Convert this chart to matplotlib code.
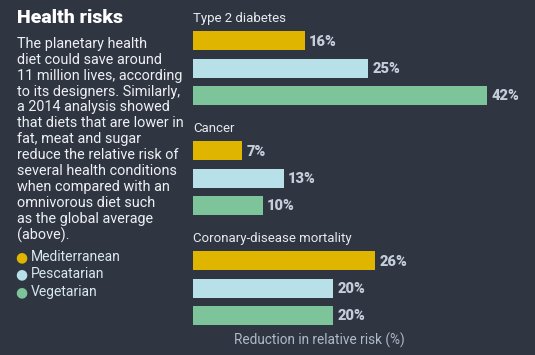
import matplotlib
matplotlib.use("Agg")
import matplotlib.pyplot as plt

# ── Data ──────────────────────────────────────────────────────────────────────
conditions = ["Type 2 diabetes", "Cancer", "Coronary-disease mortality"]
diets = ["Mediterranean", "Pescatarian", "Vegetarian"]
mediterranean = [16, 7, 26]
pescatarian = [25, 13, 20]
vegetarian = [42, 10, 20]

colors = ["#e0b500", "#b8e0e8", "#7dc49a"]
bg = "#2f3541"
W, H = 535, 355

plt.rcParams["font.family"] = ["Roboto", "DejaVu Sans"]

fig = plt.figure(figsize=(W / 100, H / 100), dpi=100, facecolor=bg)

# bar panel: x in % (7 px per %), y in pixels from top
x0, px_per = 193, 7.0
ax = fig.add_axes([x0 / W, 0, (W - x0) / W, 1])
ax.set_facecolor(bg)
ax.set_xlim(0, (W - x0) / px_per)
ax.set_ylim(H, 0)
ax.axis("off")

series = [mediterranean, pescatarian, vegetarian]
group_top = [31, 141, 251]
pitch = 27.5
bar_h = 19

for g, cond in enumerate(conditions):
    ax.text(0, group_top[g] - 6, cond, color="#e8eaee", fontsize=9.5,
            va="bottom", ha="left")
    for i, vals in enumerate(series):
        y = group_top[g] + i * pitch + bar_h / 2
        v = vals[g]
        ax.barh(y, v, height=bar_h, color=colors[i], left=0)
        ax.text(v + 0.6, y + 1, f"{v}%", color="#c5cddb", fontsize=10.5,
                fontweight="heavy", va="center", ha="left")

ax.text(18.1, 340, "Reduction in relative risk (%)", color="#aeb9c9",
        fontsize=9.8, ha="center", va="center")

# left text panel
fig.text(17 / W, 1 - 18 / H, "Health risks", color="white", fontsize=14,
         fontweight="black", va="center", ha="left")

body = ("The planetary health\n"
        "diet could save around\n"
        "11 million lives, according\n"
        "to its designers. Similarly,\n"
        "a 2014 analysis showed\n"
        "that diets that are lower in\n"
        "fat, meat and sugar\n"
        "reduce the relative risk of\n"
        "several health conditions\n"
        "when compared with an\n"
        "omnivorous diet such\n"
        "as the global average\n"
        "(above).")
fig.text(17 / W, 1 - 37 / H, body, color="#eef0f3", fontsize=10.4,
         va="top", ha="left", linespacing=1.17)

for i, d in enumerate(diets):
    yy = 1 - (257 + i * 17.5) / H
    fig.text(21.5 / W, yy, "\u25CF", color=colors[i], fontsize=10,
             va="center", ha="center", family="DejaVu Sans")
    fig.text(31 / W, yy, d, color="#d8e8f0", fontsize=10,
             va="center", ha="left")

fig.savefig("out.png", dpi=100, facecolor=bg)
